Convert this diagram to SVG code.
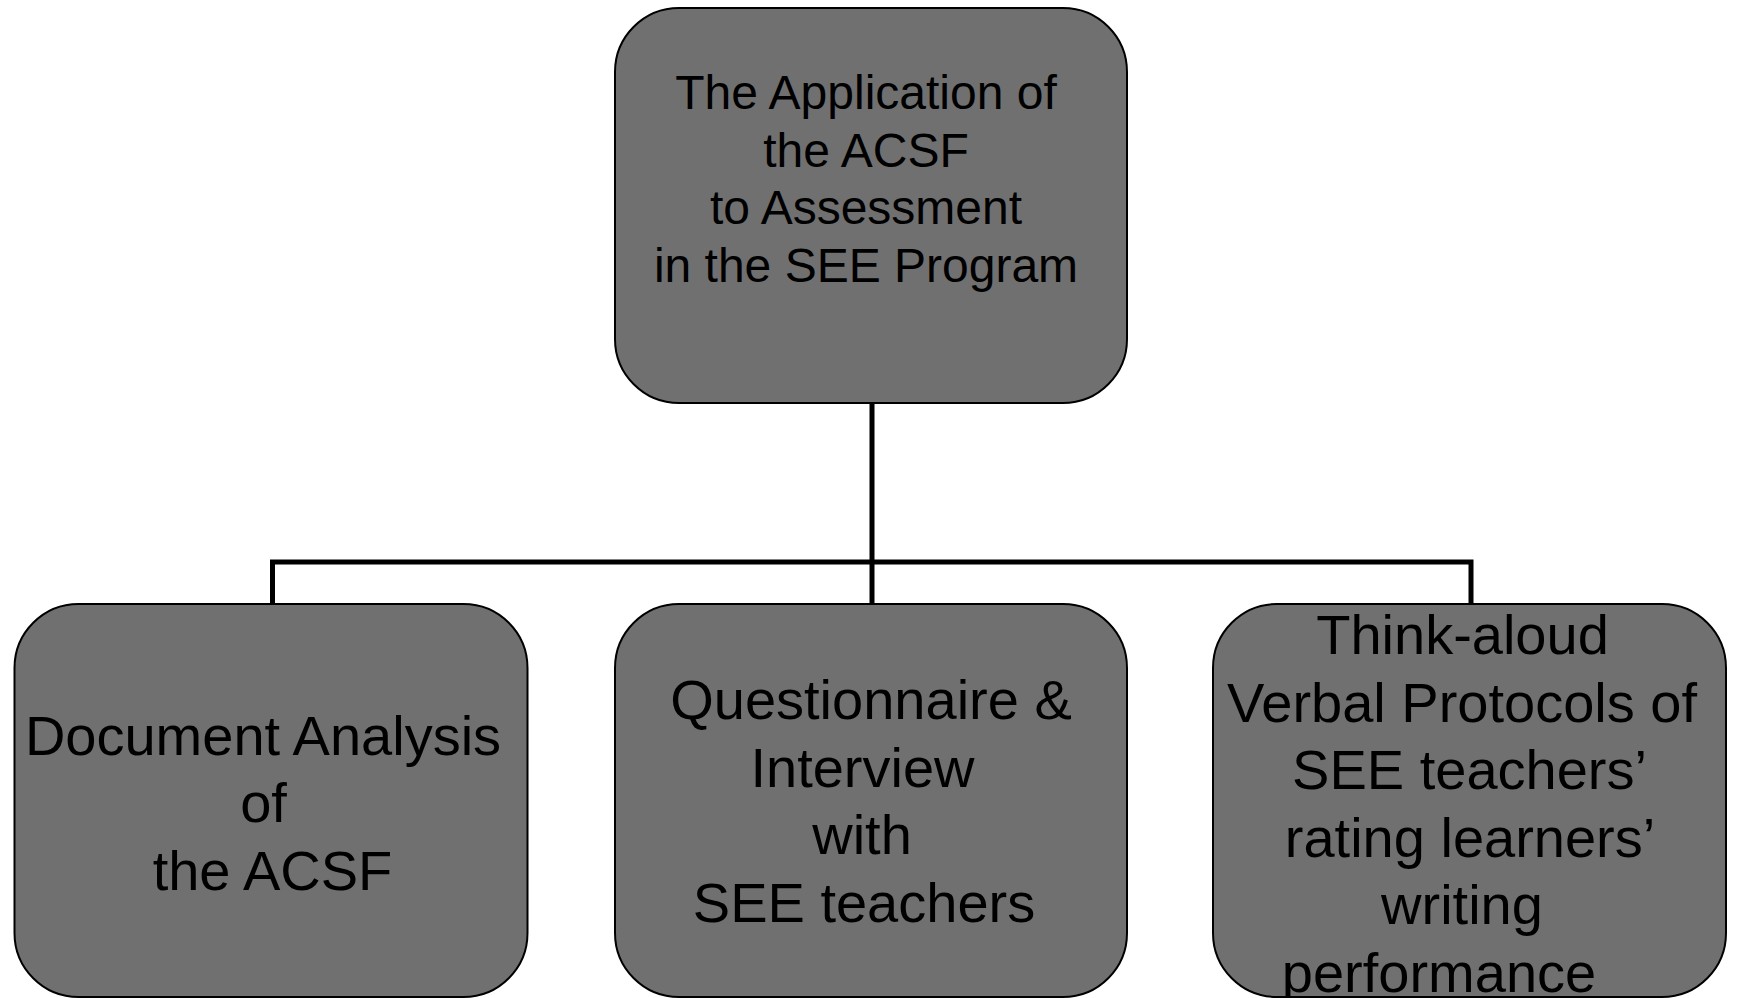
<svg xmlns="http://www.w3.org/2000/svg" width="1737" height="998" viewBox="0 0 1737 998">
<style>
.box{fill:#707070;stroke:#000;stroke-width:2}
.t{font-family:"Liberation Sans",Arial,sans-serif;fill:#000;text-anchor:middle}
.t48{font-size:48px}
.t56{font-size:56px}
.conn{fill:none;stroke:#000;stroke-width:5}
</style>
<rect width="1737" height="998" fill="#fff"/>
<g id="connectors">
<path class="conn" d="M872 403 V562"/>
<path class="conn" d="M272.5 604 V562 H1471 V604"/>
<path class="conn" d="M872 562 V604"/>
</g>
<g id="node-top">
<rect class="box" x="615" y="8" width="512" height="395" rx="64" ry="64"/>
<text class="t t48" x="866" y="109">The Application of</text>
<text class="t t48" x="866" y="166.5">the ACSF</text>
<text class="t t48" x="866" y="224">to Assessment</text>
<text class="t t48" x="866" y="281.5">in the SEE Program</text>
</g>
<g id="node-document">
<rect class="box" x="14.5" y="604" width="513" height="393" rx="64" ry="64"/>
<text class="t t56" x="263" y="754.5">Document Analysis</text>
<text class="t t56" x="263.5" y="822">of</text>
<text class="t t56" x="272.5" y="889.5">the ACSF</text>
</g>
<g id="node-questionnaire">
<rect class="box" x="615" y="604" width="512" height="393" rx="64" ry="64"/>
<text class="t t56" x="871" y="719">Questionnaire &amp;</text>
<text class="t t56" x="862.5" y="786.5">Interview</text>
<text class="t t56" x="862" y="854">with</text>
<text class="t t56" x="864" y="921.5">SEE teachers</text>
</g>
<g id="node-thinkaloud">
<rect class="box" x="1213" y="604" width="513" height="393" rx="64" ry="64"/>
<text class="t t56" x="1462.5" y="654">Think-aloud</text>
<text class="t t56" x="1462" y="721.5">Verbal Protocols of</text>
<text class="t t56" x="1469.5" y="789">SEE teachers’</text>
<text class="t t56" x="1470" y="856.5">rating learners’</text>
<text class="t t56" x="1462" y="924">writing</text>
<text class="t t56" x="1439" y="991.5">performance</text>
</g>
</svg>
